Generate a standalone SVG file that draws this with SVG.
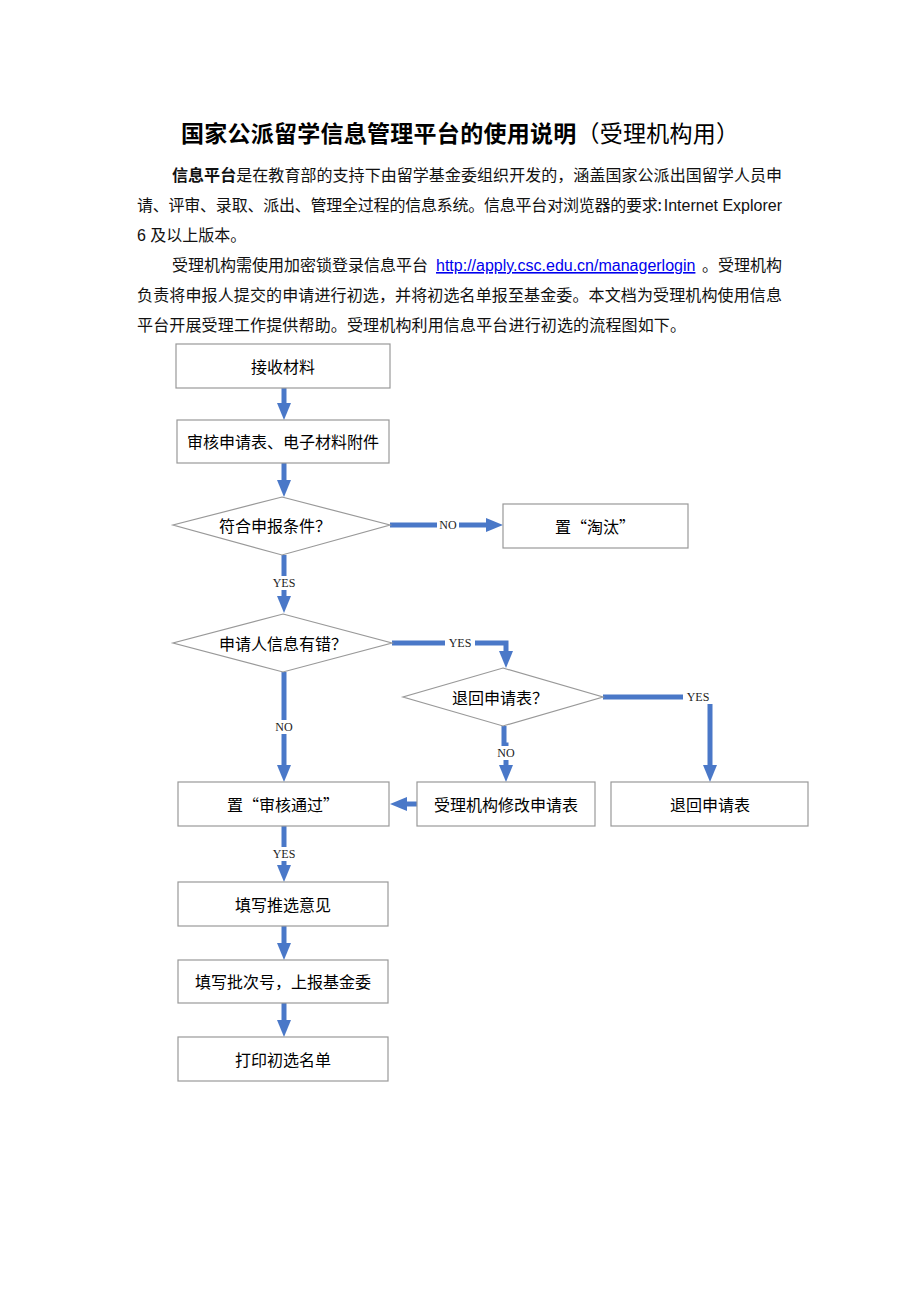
<svg xmlns="http://www.w3.org/2000/svg" width="920" height="1302" viewBox="0 0 920 1302">
<style>
.bg{fill:#fff}
.title{font-family:"Noto Sans CJK SC","Liberation Sans",sans-serif;font-size:23px;fill:#000}
.p{font-family:"Noto Sans CJK SC","Liberation Serif",serif;font-size:16px;fill:#111}
.en{font-family:"Liberation Sans","Noto Sans CJK SC",sans-serif;font-size:16px;fill:#111}
.link{font-family:"Liberation Sans",sans-serif;font-size:16px;fill:#0000ee;text-decoration:underline}
.box{fill:#fff;stroke:#999;stroke-width:1.2}
.lbl{font-family:"Noto Sans CJK SC","Liberation Sans",sans-serif;font-size:16px;fill:#000;text-anchor:middle;dominant-baseline:central}
.c{fill:none;stroke:#4a78c8;stroke-width:5}
.yn{font-family:"Liberation Serif",serif;font-size:12px;fill:#222;text-anchor:middle;dominant-baseline:central}
.ynbg{fill:#fff}
</style>
<defs>
<marker id="ah" viewBox="0 0 17 14" markerWidth="17" markerHeight="14" refX="4" refY="7" orient="auto" markerUnits="userSpaceOnUse">
<path d="M0,0 L17,7 L0,14 z" fill="#4a78c8"/>
</marker>
</defs>
<rect class="bg" x="0" y="0" width="920" height="1302"/>
<g id="text">
<text class="title" x="181" y="142" textLength="558" lengthAdjust="spacing"><tspan font-weight="bold">国家公派留学信息管理平台的使用说明</tspan><tspan>（受理机构用）</tspan></text>
<text class="p" x="172" y="181" textLength="610" lengthAdjust="spacing"><tspan font-weight="bold">信息平台</tspan>是在教育部的支持下由留学基金委组织开发的，涵盖国家公派出国留学人员申</text>
<text class="p" x="137" y="211" textLength="525" lengthAdjust="spacing">请、评审、录取、派出、管理全过程的信息系统。信息平台对浏览器的要求:</text>
<text class="en" x="782" y="211" text-anchor="end">Internet Explorer</text>
<text class="p" x="137" y="241"><tspan class="en">6 </tspan>及以上版本。</text>
<text class="p" x="172" y="271">受理机构需使用加密锁登录信息平台</text>
<text class="link" x="436" y="271">http://apply.csc.edu.cn/managerlogin</text>
<text class="p" x="782" y="271" text-anchor="end">。受理机构</text>
<text class="p" x="137" y="301" textLength="645" lengthAdjust="spacing">负责将申报人提交的申请进行初选，并将初选名单报至基金委。本文档为受理机构使用信息</text>
<text class="p" x="137" y="331" textLength="549" lengthAdjust="spacing">平台开展受理工作提供帮助。受理机构利用信息平台进行初选的流程图如下。</text>
</g>
<g id="connectors">
<line class="c" x1="284" y1="388" x2="284" y2="407" marker-end="url(#ah)"/>
<line class="c" x1="284" y1="463" x2="284" y2="484" marker-end="url(#ah)"/>
<line class="c" x1="390" y1="525" x2="490" y2="525" marker-end="url(#ah)"/>
<line class="c" x1="284" y1="555" x2="284" y2="600" marker-end="url(#ah)"/>
<polyline class="c" points="392,643 506,643 506,655" marker-end="url(#ah)"/>
<line class="c" x1="284" y1="672" x2="284" y2="769" marker-end="url(#ah)"/>
<polyline class="c" points="603,697 710,697 710,769" marker-end="url(#ah)"/>
<polyline class="c" points="504,726 504,745 506,745 506,769" marker-end="url(#ah)"/>
<line class="c" x1="417" y1="804" x2="403" y2="804" marker-end="url(#ah)"/>
<line class="c" x1="284" y1="826" x2="284" y2="869" marker-end="url(#ah)"/>
<line class="c" x1="284" y1="926" x2="284" y2="947" marker-end="url(#ah)"/>
<line class="c" x1="284" y1="1003" x2="284" y2="1024" marker-end="url(#ah)"/>
<rect class="ynbg" x="437" y="518" width="22" height="14"/><text class="yn" x="448" y="525">NO</text>
<rect class="ynbg" x="269" y="576" width="30" height="14"/><text class="yn" x="284" y="583">YES</text>
<rect class="ynbg" x="445" y="636" width="30" height="14"/><text class="yn" x="460" y="643">YES</text>
<rect class="ynbg" x="273" y="720" width="22" height="14"/><text class="yn" x="284" y="727">NO</text>
<rect class="ynbg" x="683" y="690" width="30" height="14"/><text class="yn" x="698" y="697">YES</text>
<rect class="ynbg" x="495" y="746" width="22" height="14"/><text class="yn" x="506" y="753">NO</text>
<rect class="ynbg" x="269" y="847" width="30" height="14"/><text class="yn" x="284" y="854">YES</text>
</g>
<g id="n1"><rect class="box" x="176" y="344" width="214" height="44"/><text class="lbl" x="283" y="366">接收材料</text></g>
<g id="n2"><rect class="box" x="177" y="420" width="212" height="43"/><text class="lbl" x="283" y="441">审核申请表、电子材料附件</text></g>
<g id="d1"><polygon class="box" points="282,497 390,525 282,555 173,525"/><text class="lbl" x="275" y="525">符合申报条件？</text></g>
<g id="n3"><rect class="box" x="503" y="504" width="185" height="44"/><text class="lbl" x="595" y="526">置“淘汰”</text></g>
<g id="d2"><polygon class="box" points="283,614 392,643 283,672 173,643"/><text class="lbl" x="283" y="643">申请人信息有错？</text></g>
<g id="d3"><polygon class="box" points="503,668 603,697 503,726 403,697"/><text class="lbl" x="500" y="697">退回申请表？</text></g>
<g id="n4"><rect class="box" x="178" y="782" width="211" height="44"/><text class="lbl" x="283" y="804">置“审核通过”</text></g>
<g id="n5"><rect class="box" x="417" y="782" width="178" height="44"/><text class="lbl" x="506" y="804">受理机构修改申请表</text></g>
<g id="n6"><rect class="box" x="611" y="782" width="197" height="44"/><text class="lbl" x="710" y="804">退回申请表</text></g>
<g id="n7"><rect class="box" x="178" y="882" width="210" height="44"/><text class="lbl" x="283" y="904">填写推选意见</text></g>
<g id="n8"><rect class="box" x="178" y="960" width="210" height="43"/><text class="lbl" x="283" y="981">填写批次号，上报基金委</text></g>
<g id="n9"><rect class="box" x="178" y="1037" width="210" height="44"/><text class="lbl" x="283" y="1059">打印初选名单</text></g>
</svg>
